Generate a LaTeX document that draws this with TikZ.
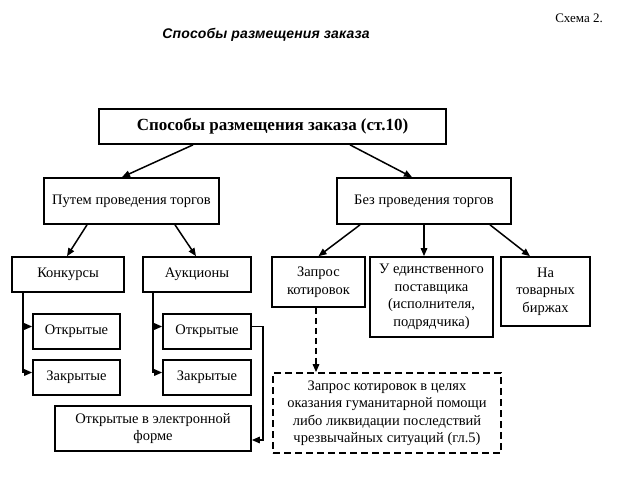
\documentclass[tikz,border=0pt]{standalone}
\usepackage{fontspec}
\setmainfont{Liberation Serif}
\newfontfamily\titlefont[LetterSpace=1]{Liberation Sans}
\usetikzlibrary{arrows.meta}
\tikzset{
    box/.style={draw, line width=1.7pt, inner sep=2pt, align=center,
        font=\fontsize{14.5}{17.5}\selectfont},
    dbox/.style={box, dash pattern=on 7pt off 4pt},
    arr/.style={line width=1.5pt, -{Triangle[length=8pt,width=6.5pt]}},
}
\begin{document}
\begin{tikzpicture}[x=1pt, y=-1pt, line join=miter]
        \useasboundingbox (0,0) rectangle (623,483);
        % headings
        \node[font=\fontsize{13}{15}\selectfont, anchor=east, inner sep=0pt] (scheme) at (603,18) {Схема 2.};
        \node[font=\titlefont\bfseries\itshape\fontsize{14}{17}\selectfont] (title) at (266,35) {Способы размещения заказа};
        % boxes
        \node[box, minimum width=347, minimum height=35, font=\bfseries\fontsize{17}{20}\selectfont] (main) at (272.5,126.5) {Способы размещения заказа (ст.10)};
        \node[box, minimum width=175, minimum height=46] (torg) at (131.5,201) {Путем проведения торгов};
        \node[box, minimum width=174, minimum height=46] (bez) at (424,201) {Без проведения торгов};
        \node[box, minimum width=112, minimum height=35] (konk) at (68,274.5) {Конкурсы};
        \node[box, minimum width=108, minimum height=35] (auk) at (197,274.5) {Аукционы};
        \node[box, minimum width=93, minimum height=50] (zapr) at (318.5,282) {Запрос\\котировок};
        \node[box, minimum width=123, minimum height=80] (edin) at (431.5,297) {У единственного\\поставщика\\(исполнителя,\\подрядчика)};
        \node[box, minimum width=89, minimum height=69] (birzh) at (545.5,291.5) {На\\товарных\\биржах};
        \node[box, minimum width=87, minimum height=35] (kotkr) at (76.5,331.5) {Открытые};
        \node[box, minimum width=87, minimum height=35] (kzakr) at (76.5,377.5) {Закрытые};
        \node[box, minimum width=88, minimum height=35] (aotkr) at (207,331.5) {Открытые};
        \node[box, minimum width=88, minimum height=35] (azakr) at (207,377.5) {Закрытые};
        \node[box, minimum width=196, minimum height=45] (elek) at (153,428.5) {Открытые в электронной\\форме};
        \node[dbox, minimum width=228, minimum height=80] (kotir) at (387,413) {Запрос котировок в целях\\оказания гуманитарной помощи\\либо ликвидации последствий\\чрезвычайных ситуаций (гл.5)};
        % arrows
        \draw[arr] ([xshift=-79.5pt]main.south) -- ([xshift=-9.5pt]torg.north);
        \draw[arr] ([xshift=77.5pt]main.south) -- ([xshift=-12pt]bez.north);
        \draw[arr] ([xshift=-44.5pt]torg.south) -- ([xshift=-1pt]konk.north);
        \draw[arr] ([xshift=43.5pt]torg.south) -- ([xshift=-1pt]auk.north);
        \draw[arr] ([xshift=-64pt]bez.south) -- (zapr.north);
        \draw[arr] (bez.south) -- (bez.south |- edin.north);
        \draw[arr] ([xshift=66pt]bez.south) -- ([xshift=-15.5pt]birzh.north);
        \draw[arr] ([xshift=-45pt]konk.south) |- ([yshift=5pt]kotkr.west);
        \draw[arr] ([xshift=-45pt]konk.south) |- ([yshift=5pt]kzakr.west);
        \draw[arr] ([xshift=-44pt]auk.south) |- ([yshift=5pt]aotkr.west);
        \draw[arr] ([xshift=-44pt]auk.south) |- ([yshift=5pt]azakr.west);
        \draw[arr] ([yshift=5pt]aotkr.east) -- ++(11,0) |- ([yshift=-11.5pt]elek.east);
        \draw[arr, dash pattern=on 6pt off 4pt] ([xshift=-2.5pt]zapr.south) -- ([xshift=-71pt]kotir.north);
\end{tikzpicture}
\end{document}
